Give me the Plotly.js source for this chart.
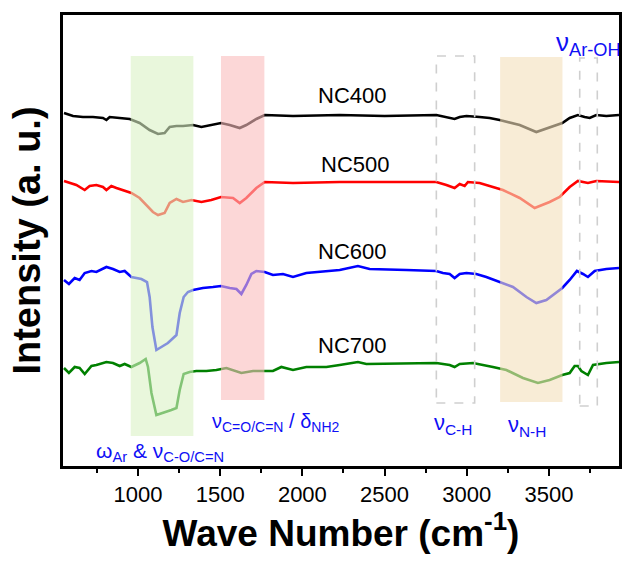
<!DOCTYPE html>
<html>
<head>
<meta charset="utf-8">
<script src="https://cdn.plot.ly/plotly-3.0.1.min.js"></script>
<style>
  html, body { margin: 0; padding: 0; background: #fff; }
  #chart { width: 624px; height: 564px; }
</style>
</head>
<body>
<div id="chart"></div>
<script>
// FTIR spectra of the NC series (offset for clarity)
const nc400Wave = [550,605,665,726,787,808,828,889,950,1010,1071,1122,1162,1193,1234,1274,1335,1386,1436,1505,1558,1619,1659,1720,1771,1943,2227,2500,2815,2876,2926,2957,2998,3078,3139,3200,3322,3423,3504,3581,3626,3676,3717,3748,3788,3849,3926];
const nc400Int  = [3.53,3.50,3.49,3.49,3.48,3.46,3.49,3.48,3.47,3.43,3.36,3.32,3.33,3.39,3.40,3.40,3.41,3.39,3.41,3.43,3.41,3.38,3.41,3.47,3.51,3.50,3.51,3.50,3.51,3.49,3.47,3.49,3.50,3.49,3.48,3.46,3.41,3.34,3.39,3.43,3.48,3.51,3.49,3.48,3.51,3.50,3.51];

const nc500Wave = [550,595,625,676,706,747,787,808,838,869,929,960,1010,1051,1091,1122,1162,1193,1234,1274,1325,1386,1446,1505,1578,1619,1659,1720,1771,1943,2227,2500,2815,2876,2926,2957,2987,3007,3078,3159,3220,3322,3413,3504,3565,3626,3676,3737,3788,3926];
const nc500Int  = [2.85,2.83,2.81,2.76,2.80,2.81,2.79,2.76,2.80,2.78,2.75,2.73,2.68,2.61,2.54,2.51,2.53,2.63,2.67,2.64,2.66,2.64,2.66,2.69,2.68,2.63,2.68,2.78,2.84,2.83,2.84,2.84,2.84,2.81,2.78,2.82,2.80,2.84,2.83,2.79,2.76,2.68,2.58,2.64,2.69,2.79,2.85,2.83,2.85,2.84];

const nc600Wave = [550,580,615,645,676,717,747,808,848,889,919,960,1021,1055,1071,1088,1112,1142,1182,1234,1254,1278,1304,1335,1395,1456,1505,1558,1599,1629,1659,1690,1720,1771,1821,1882,1943,2024,2146,2227,2338,2409,2633,2815,2855,2896,2926,2957,2998,3058,3119,3200,3281,3363,3423,3484,3581,3626,3670,3707,3737,3778,3849,3926];
const nc600Int  = [1.86,1.82,1.88,1.86,1.93,1.95,1.94,1.99,1.97,1.94,1.95,1.89,1.87,1.84,1.69,1.39,1.16,1.19,1.23,1.31,1.53,1.69,1.74,1.76,1.78,1.79,1.80,1.78,1.77,1.72,1.81,1.92,1.95,1.94,1.91,1.92,1.89,1.93,1.95,1.96,2.00,1.97,1.96,1.95,1.93,1.92,1.88,1.92,1.93,1.92,1.89,1.84,1.79,1.69,1.63,1.66,1.78,1.86,1.95,1.92,1.89,1.95,1.97,1.98];

const nc700Wave = [550,580,615,645,676,717,747,808,848,889,919,960,1010,1047,1061,1082,1112,1152,1203,1234,1254,1278,1314,1355,1416,1477,1538,1629,1700,1760,1821,1872,1943,2024,2146,2227,2338,2389,2633,2815,2896,2926,2957,3038,3159,3241,3342,3433,3504,3581,3626,3656,3676,3697,3737,3768,3849,3926];
const nc700Int  = [0.98,0.93,0.99,0.98,0.92,1.00,1.01,1.04,1.03,1.00,1.02,0.99,1.03,1.07,0.99,0.73,0.51,0.53,0.56,0.58,0.76,0.92,0.94,0.95,0.95,0.96,0.98,0.93,0.95,0.95,0.95,0.99,0.96,0.99,0.99,1.01,1.04,1.02,1.03,1.03,1.01,0.99,1.02,1.03,0.99,0.96,0.88,0.83,0.86,0.91,0.93,1.00,1.00,0.95,0.91,1.01,1.03,1.04];

const sampleNames  = ['NC400', 'NC500', 'NC600', 'NC700'];
const sampleColors = ['#000000', '#ff0000', '#0000ff', '#008000'];
const tickValues   = [1000, 1500, 2000, 2500, 3000, 3500];

const FONT = 'Liberation Sans, Arial, sans-serif';
const BLUE = 'rgb(15,15,245)';

const waves = [nc400Wave, nc500Wave, nc600Wave, nc700Wave];
const ints  = [nc400Int, nc500Int, nc600Int, nc700Int];

const traces = sampleNames.map((name, i) => ({
  type: 'scatter',
  mode: 'lines',
  name: name,
  x: waves[i],
  y: ints[i],
  line: { color: sampleColors[i], width: 2.6 },
  hoverinfo: 'x+y+name'
}));

// band regions (translucent, drawn over the spectra) and dashed guide boxes
const band = (x0, x1, y0, y1, color) => ({
  type: 'rect', xref: 'x', yref: 'y', x0, x1, y0, y1,
  fillcolor: color, line: { width: 0 }, layer: 'above'
});
const guide = (x0, x1, y0, y1) => ({
  type: 'rect', xref: 'x', yref: 'y', x0, x1, y0, y1,
  fillcolor: 'rgba(0,0,0,0)', line: { color: '#cfcfcf', width: 1.6, dash: 'dash' }, layer: 'above'
});

const shapes = [
  band(956, 1337, 0.30, 4.10, 'rgba(218,242,197,0.6)'),
  band(1505, 1769, 0.66, 4.10, 'rgba(250,188,188,0.6)'),
  band(3203, 3582, 0.64, 4.09, 'rgba(243,223,187,0.6)'),
  guide(2815, 3048, 0.63, 4.10),
  guide(3687, 3794, 0.60, 4.08)
];

const sampleLabelPos = [[2303, 3.71], [2323, 3.02], [2303, 2.15], [2303, 1.21]];
const annotations = sampleNames.map((name, i) => ({
  x: sampleLabelPos[i][0], y: sampleLabelPos[i][1], xref: 'x', yref: 'y',
  text: name, showarrow: false,
  font: { family: FONT, size: 22, color: '#000' }
}));

const bandLabels = [
  { x: 1133, y: 0.14, size: 21, text: 'ω<sub>Ar</sub> & ν<sub>C-O/C=N</sub>' },
  { x: 1840, y: 0.44, size: 20, text: 'ν<sub>C=O/C=N</sub> / δ<sub>NH2</sub>' },
  { x: 2914, y: 0.42, size: 22, text: 'ν<sub>C-H</sub>' },
  { x: 3369, y: 0.40, size: 22, text: 'ν<sub>N-H</sub>' },
  { x: 3738, y: 4.23, size: 26, text: 'ν<sub>Ar-OH</sub>' }
];
bandLabels.forEach(b => annotations.push({
  x: b.x, y: b.y, xref: 'x', yref: 'y', text: b.text, showarrow: false,
  font: { family: FONT, size: b.size, color: BLUE }
}));

const layout = {
  width: 624, height: 564,
  margin: { l: 63, r: 5, t: 15, b: 98 },
  paper_bgcolor: '#fff', plot_bgcolor: '#fff',
  showlegend: false,
  font: { family: FONT, color: '#000' },
  xaxis: {
    range: [544, 3926],
    tickvals: tickValues,
    ticktext: tickValues.map(String),
    ticks: 'outside', ticklen: 7, tickwidth: 2, tickcolor: '#000',
    minor: { dtick: 250, tick0: 750, ticks: 'outside', ticklen: 4, tickwidth: 2, tickcolor: '#000', showgrid: false },
    showline: true, linewidth: 2.6, linecolor: '#000', mirror: true,
    showgrid: false, zeroline: false,
    tickfont: { family: FONT, size: 22, color: '#000' },
    title: { text: 'Wave Number (cm<sup>-1</sup>)', font: { family: FONT, size: 37, weight: 'bold', color: '#000' }, standoff: 14 }
  },
  yaxis: {
    range: [0, 4.51],
    showticklabels: false, ticks: '',
    showline: true, linewidth: 2.6, linecolor: '#000', mirror: true,
    showgrid: false, zeroline: false,
    title: { text: 'Intensity (a. u.)', font: { family: FONT, size: 38, weight: 'bold', color: '#000' }, standoff: 8 }
  },
  shapes: shapes,
  annotations: annotations
};

Plotly.newPlot('chart', traces, layout, { displayModeBar: false, staticPlot: true });
</script>
</body>
</html>
